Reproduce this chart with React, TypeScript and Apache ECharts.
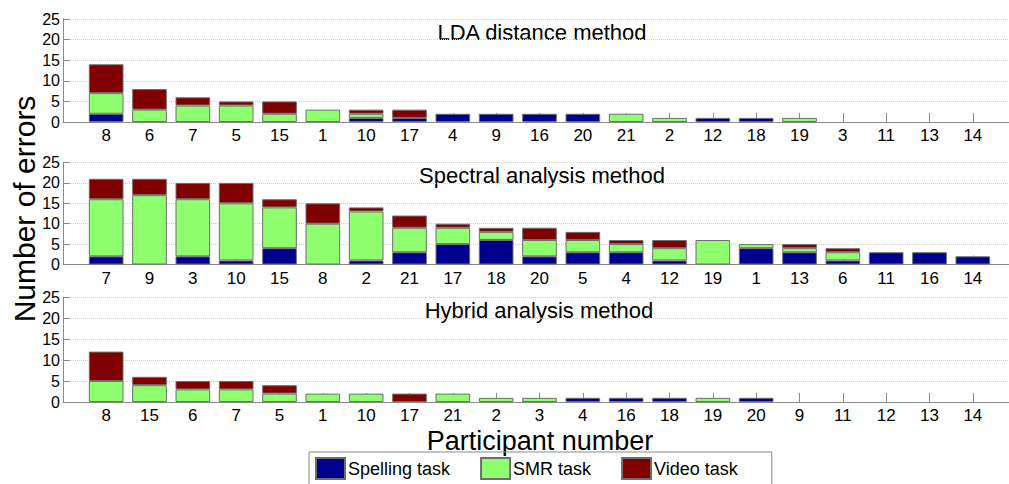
import React, { useEffect, useRef } from "react";
import * as echarts from "echarts";

// Participant order (sorted by total errors) for each method
const LDA_PARTICIPANTS = ["8", "6", "7", "5", "15", "1", "10", "17", "4", "9", "16", "20", "21", "2", "12", "18", "19", "3", "11", "13", "14"];
const LDA_SPELLING = [2, 0, 0, 0, 0, 0, 1, 1, 2, 2, 2, 2, 0, 0, 1, 1, 0, 0, 0, 0, 0];
const LDA_SMR = [5, 3, 4, 4, 2, 3, 1, 0, 0, 0, 0, 0, 2, 1, 0, 0, 1, 0, 0, 0, 0];
const LDA_VIDEO = [7, 5, 2, 1, 3, 0, 1, 2, 0, 0, 0, 0, 0, 0, 0, 0, 0, 0, 0, 0, 0];

const SPECTRAL_PARTICIPANTS = ["7", "9", "3", "10", "15", "8", "2", "21", "17", "18", "20", "5", "4", "12", "19", "1", "13", "6", "11", "16", "14"];
const SPECTRAL_SPELLING = [2, 0, 2, 1, 4, 0, 1, 3, 5, 6, 2, 3, 3, 1, 0, 4, 3, 1, 3, 3, 2];
const SPECTRAL_SMR = [14, 17, 14, 14, 10, 10, 12, 6, 4, 2, 4, 3, 2, 3, 6, 1, 1, 2, 0, 0, 0];
const SPECTRAL_VIDEO = [5, 4, 4, 5, 2, 5, 1, 3, 1, 1, 3, 2, 1, 2, 0, 0, 1, 1, 0, 0, 0];

const HYBRID_PARTICIPANTS = ["8", "15", "6", "7", "5", "1", "10", "17", "21", "2", "3", "4", "16", "18", "19", "20", "9", "11", "12", "13", "14"];
const HYBRID_SPELLING = [0, 0, 0, 0, 0, 0, 0, 0, 0, 0, 0, 1, 1, 1, 0, 1, 0, 0, 0, 0, 0];
const HYBRID_SMR = [5, 4, 3, 3, 2, 2, 2, 0, 2, 1, 1, 0, 0, 0, 1, 0, 0, 0, 0, 0, 0];
const HYBRID_VIDEO = [7, 2, 2, 2, 2, 0, 0, 2, 0, 0, 0, 0, 0, 0, 0, 0, 0, 0, 0, 0, 0];

const Y_TICKS = [0, 5, 10, 15, 20, 25];
const TASKS = ["Spelling task", "SMR task", "Video task"];
const TASK_COLORS = ["#00008F", "#8FFF70", "#800000"];
const METHOD_TITLES = ["LDA distance method", "Spectral analysis method", "Hybrid analysis method"];

const FONT = "'Liberation Sans', Arial, sans-serif";

const panels = [
  { participants: LDA_PARTICIPANTS, values: [LDA_SPELLING, LDA_SMR, LDA_VIDEO], top: 19, height: 103, titleX: 542, titleY: 32 },
  { participants: SPECTRAL_PARTICIPANTS, values: [SPECTRAL_SPELLING, SPECTRAL_SMR, SPECTRAL_VIDEO], top: 162.5, height: 102, titleX: 542, titleY: 175 },
  { participants: HYBRID_PARTICIPANTS, values: [HYBRID_SPELLING, HYBRID_SMR, HYBRID_VIDEO], top: 297, height: 105, titleX: 539, titleY: 310 },
];

const Y_MAX = Y_TICKS[Y_TICKS.length - 1];
const Y_STEP = Y_TICKS[1] - Y_TICKS[0];

function buildOption() {
  const grid: any[] = [];
  const xAxis: any[] = [];
  const yAxis: any[] = [];
  const series: any[] = [];
  const graphic: any[] = [];

  panels.forEach((p, pi) => {
    // frame grid: y axis, dotted grid lines and the baseline
    const frameIdx = grid.length;
    grid.push({ left: 63, right: 0, top: p.top, height: p.height });
    xAxis.push({
      gridIndex: frameIdx,
      type: "value",
      min: 0,
      max: 1,
      axisLine: { show: true, onZero: false, lineStyle: { color: "#8a8a8a", width: 1 } },
      axisTick: { show: false },
      axisLabel: { show: false },
      splitLine: { show: false },
    });
    yAxis.push({
      gridIndex: frameIdx,
      type: "value",
      min: 0,
      max: Y_MAX,
      interval: Y_STEP,
      axisLine: { show: true, lineStyle: { color: "#8a8a8a", width: 1 } },
      axisTick: { show: true, inside: true, length: 7, lineStyle: { color: "#8a8a8a" } },
      axisLabel: { fontSize: 16, color: "#000", fontFamily: FONT, margin: 3 },
      splitLine: { show: true, lineStyle: { color: "#cfcfcf", type: "dotted", width: 1 } },
    });

    // bar grid: participants on a category axis
    const barIdx = grid.length;
    grid.push({ left: 84.5, right: 14.5, top: p.top, height: p.height });
    xAxis.push({
      gridIndex: barIdx,
      type: "category",
      data: p.participants,
      axisLine: { show: false },
      axisTick: { show: true, inside: true, length: 9, alignWithLabel: true, lineStyle: { color: "#8a8a8a" } },
      axisLabel: { fontSize: 17, lineHeight: 17, color: "#000", fontFamily: FONT, margin: 5, interval: 0 },
      splitLine: { show: false },
    });
    yAxis.push({
      gridIndex: barIdx,
      type: "value",
      min: 0,
      max: Y_MAX,
      show: false,
    });

    TASKS.forEach((task, ti) => {
      series.push({
        name: task,
        type: "bar",
        xAxisIndex: barIdx,
        yAxisIndex: barIdx,
        stack: "panel" + pi,
        barWidth: "80%",
        data: p.values[ti].map((v) => (v === 0 ? null : v)),
        itemStyle: { color: TASK_COLORS[ti], borderColor: "#6e6e6e", borderWidth: 1 },
      });
    });

    graphic.push({
      type: "text",
      x: p.titleX,
      y: p.titleY,
      style: {
        text: METHOD_TITLES[pi],
        fontSize: 22,
        fontFamily: FONT,
        fill: "#000",
        textAlign: "center",
        textVerticalAlign: "middle",
      },
    });
  });

  graphic.push({
    type: "text",
    x: 24,
    y: 209,
    rotation: Math.PI / 2,
    style: {
      text: "Number of errors",
      fontSize: 30,
      fontFamily: FONT,
      fill: "#000",
      textAlign: "center",
      textVerticalAlign: "middle",
    },
  });
  graphic.push({
    type: "text",
    x: 540,
    y: 441,
    style: {
      text: "Participant number",
      fontSize: 27,
      fontFamily: FONT,
      fill: "#000",
      textAlign: "center",
      textVerticalAlign: "middle",
    },
  });

  return {
    animation: false,
    backgroundColor: "#fff",
    grid,
    xAxis,
    yAxis,
    series,
    graphic,
    legend: {
      data: TASKS,
      left: 309,
      top: 452,
      orient: "horizontal",
      itemWidth: 29,
      itemHeight: 21,
      itemGap: 30,
      padding: [5, 34, 10, 6],
      borderColor: "#8a8a8a",
      borderWidth: 1,
      icon: "rect",
      selectedMode: false,
      textStyle: { fontSize: 18, color: "#000", fontFamily: FONT, padding: [0, 0, 0, -2] },
    },
  };
}

export default function App() {
  const ref = useRef<HTMLDivElement>(null);

  useEffect(() => {
    if (!ref.current) return;
    const chart = echarts.init(ref.current, undefined, { renderer: "svg" });
    chart.setOption(buildOption());
    return () => chart.dispose();
  }, []);

  return (
    <div
      ref={ref}
      style={{ position: "absolute", left: 0, top: 0, width: 1009, height: 484, background: "#fff" }}
    />
  );
}
